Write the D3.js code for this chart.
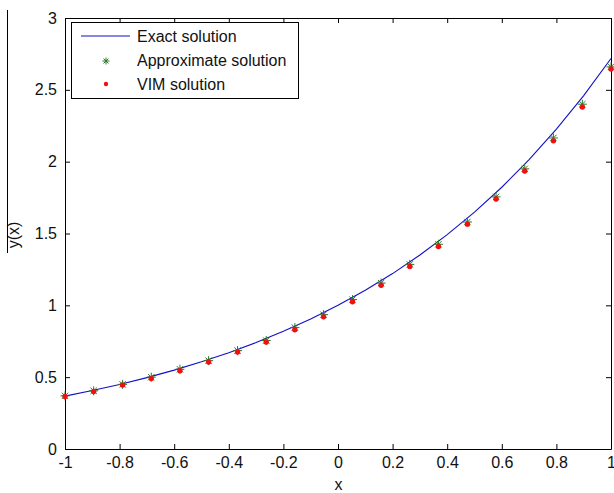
<!DOCTYPE html>
<html>
<head>
<meta charset="utf-8">
<script src="https://cdn.jsdelivr.net/npm/d3@7"></script>
<style>
  body { margin: 0; background: #fff; }
  text { font-family: "Liberation Sans", Arial, sans-serif; fill: #111; }
</style>
</head>
<body>
<div id="root"></div>
<script>
// exact solution
var exactX = [-1, -0.9, -0.8, -0.7, -0.6, -0.5, -0.4, -0.3, -0.2, -0.1, 0, 0.1, 0.2, 0.3, 0.4, 0.5, 0.6, 0.7, 0.8, 0.9, 1];
var exactY = [0.368, 0.407, 0.449, 0.497, 0.549, 0.607, 0.670, 0.741, 0.819, 0.905, 1.0, 1.105, 1.221, 1.350, 1.492, 1.649, 1.822, 2.014, 2.226, 2.460, 2.718];

// marker positions
var nodeX = [-1, -0.895, -0.789, -0.684, -0.579, -0.474, -0.368, -0.263, -0.158, -0.053, 0.053, 0.158, 0.263, 0.368, 0.474, 0.579, 0.684, 0.789, 0.895, 1];
var approxY = [0.37, 0.405, 0.45, 0.50, 0.555, 0.615, 0.685, 0.755, 0.845, 0.935, 1.04, 1.155, 1.285, 1.425, 1.58, 1.755, 1.95, 2.165, 2.40, 2.66];
var vimY = [0.365, 0.40, 0.445, 0.49, 0.545, 0.605, 0.675, 0.745, 0.83, 0.92, 1.025, 1.14, 1.27, 1.41, 1.565, 1.74, 1.935, 2.145, 2.38, 2.645];

var xTicks = [-1, -0.8, -0.6, -0.4, -0.2, 0, 0.2, 0.4, 0.6, 0.8, 1];
var yTicks = [0, 0.5, 1, 1.5, 2, 2.5, 3];
var legendLabels = ['Exact solution', 'Approximate solution', 'VIM solution'];

function drawChart() {
  var width = 614;
  var height = 493;
  var mLeft = 65, mRight = 611, mTop = 18, mBottom = 449;

  var svg = d3.select('#root')
    .append('svg')
      .attr('width', width)
      .attr('height', height);

  var x = d3.scaleLinear().domain([-1, 1]).range([mLeft, mRight]);
  var y = d3.scaleLinear().domain([0, 3]).range([mBottom, mTop]);

  // plain hyphen minus like the original
  var fmt = function(d) { return String(d); };

  // axes on all four sides, ticks pointing in
  svg.append('g')
    .attr('transform', 'translate(0,' + mBottom + ')')
    .call(d3.axisBottom(x).tickValues(xTicks).tickSizeInner(-5).tickSizeOuter(0).tickPadding(8).tickFormat(fmt));
  svg.append('g')
    .attr('transform', 'translate(0,' + mTop + ')')
    .call(d3.axisTop(x).tickValues(xTicks).tickSizeInner(-5).tickSizeOuter(0).tickFormat(''));
  svg.append('g')
    .attr('transform', 'translate(' + mLeft + ',0)')
    .call(d3.axisLeft(y).tickValues(yTicks).tickSizeInner(-5).tickSizeOuter(0).tickPadding(8).tickFormat(fmt));
  svg.append('g')
    .attr('transform', 'translate(' + mRight + ',0)')
    .call(d3.axisRight(y).tickValues(yTicks).tickSizeInner(-5).tickSizeOuter(0).tickFormat(''));

  svg.selectAll('.domain').attr('stroke', '#000');
  svg.selectAll('.tick line').attr('stroke', '#000');
  svg.selectAll('.tick text')
    .style('font-size', '16px')
    .style('font-family', '"Liberation Sans", Arial, sans-serif')
    .attr('fill', '#111');

  // exact curve
  var line = d3.line()
    .x(function(d, i) { return x(exactX[i]); })
    .y(function(d) { return y(d); });

  svg.append('path')
    .datum(exactY)
    .attr('d', line)
    .attr('fill', 'none')
    .attr('stroke', '#1010c8')
    .attr('stroke-width', 1.1);

  function star(g, cx, cy, s) {
    var c = '#2a7a2a';
    g.append('line').attr('x1', cx - s).attr('x2', cx + s).attr('y1', cy).attr('y2', cy).attr('stroke', c);
    g.append('line').attr('x1', cx).attr('x2', cx).attr('y1', cy - s).attr('y2', cy + s).attr('stroke', c);
    g.append('line').attr('x1', cx - s * 0.7).attr('x2', cx + s * 0.7).attr('y1', cy - s * 0.7).attr('y2', cy + s * 0.7).attr('stroke', c);
    g.append('line').attr('x1', cx - s * 0.7).attr('x2', cx + s * 0.7).attr('y1', cy + s * 0.7).attr('y2', cy - s * 0.7).attr('stroke', c);
  }

  var stars = svg.append('g');
  approxY.map(function(v, i) {
    star(stars, x(nodeX[i]), y(v), 4.5);
  });

  svg.append('g').selectAll('circle')
    .data(vimY)
    .enter()
    .append('circle')
      .attr('cx', function(d, i) { return x(nodeX[i]); })
      .attr('cy', function(d) { return y(d); })
      .attr('r', 2.7)
      .attr('fill', '#f01010');

  // legend
  var lg = svg.append('g');
  lg.append('rect')
    .attr('x', 71.5).attr('y', 22.5)
    .attr('width', 227).attr('height', 76)
    .attr('fill', '#fff').attr('stroke', '#000');
  lg.append('line')
    .attr('x1', 81).attr('x2', 130).attr('y1', 36).attr('y2', 36)
    .attr('stroke', '#1010c8').attr('stroke-width', 1.1);
  star(lg, 106, 61, 3.5);
  lg.append('circle').attr('cx', 106).attr('cy', 84).attr('r', 2.2).attr('fill', '#f01010');
  legendLabels.map(function(t, i) {
    lg.append('text')
      .attr('x', 137).attr('y', 36 + i * 24)
      .attr('dy', '0.35em')
      .style('font-size', '16px')
      .text(t);
  });

  // axis labels
  svg.append('text')
    .attr('x', (mLeft + mRight) / 2 + 0.5).attr('y', 490)
    .attr('text-anchor', 'middle')
    .style('font-size', '16px')
    .text('x');

  svg.append('text')
    .attr('transform', 'translate(19,235) rotate(-90)')
    .attr('text-anchor', 'middle')
    .style('font-size', '16px')
    .text('y(x)');

  svg.append('line')
    .attr('x1', 7.5).attr('x2', 7.5).attr('y1', 10).attr('y2', 253)
    .attr('stroke', '#000');
}

drawChart();
</script>
</body>
</html>
